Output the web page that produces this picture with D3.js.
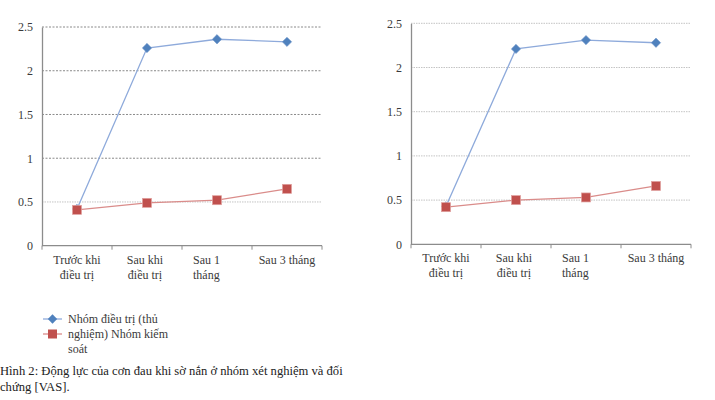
<!DOCTYPE html>
<html><head><meta charset="utf-8">
<script src="https://cdn.jsdelivr.net/npm/d3@7"></script>
<style>
html,body{margin:0;padding:0;background:#fff;}
svg text{font-family:"Liberation Serif","Times New Roman",serif !important;}
</style></head>
<body><svg id="c" width="715" height="400"></svg>
<script>
const categories = ["Trước khi điều trị", "Sau khi điều trị", "Sau 1 tháng", "Sau 3 tháng"];
const categoryLines = [["Trước khi", "điều trị"], ["Sau khi", "điều trị"], ["Sau 1", "tháng"], ["Sau 3 tháng"]];
const yTicks = [0, 0.5, 1, 1.5, 2, 2.5];
const leftTreatment = [0.42, 2.26, 2.36, 2.33];
const leftControl = [0.41, 0.49, 0.52, 0.65];
const rightTreatment = [0.43, 2.21, 2.31, 2.28];
const rightControl = [0.42, 0.50, 0.53, 0.66];
const legendLabels = ["Nhóm điều trị (thủ", "nghiệm) Nhóm kiếm", "soát"];
const captionLines = ["Hình 2: Động lực của cơn đau khi sờ nắn ở nhóm xét nghiệm và đối", "chứng [VAS]."];

const FONT = "Liberation Serif";
const svg = d3.select("#c");
const blue = "#4F81BD", blueLine = "#8EAADB", red = "#C0504D", redLine = "#DA8C8A";
const textCol = "#3a3a3a";

function drawChart(cfg) {
  const g = svg.append("g");
  const x = d3.scaleBand().domain(categories).range([cfg.left, cfg.right]).padding(0);
  const y = d3.scaleLinear().domain([0, 2.5]).range([cfg.bottom, cfg.top]);
  yTicks.filter(v => v > 0).forEach(v => {
    const dark = cfg.darkGrid && v >= 1;
    g.append("line")
      .attr("x1", cfg.left).attr("x2", cfg.right)
      .attr("y1", y(v)).attr("y2", y(v))
      .attr("stroke", dark ? "#8a8a8a" : "#c4c4c4")
      .attr("stroke-width", 1)
      .attr("stroke-dasharray", dark ? "2,1.5" : "1.5,1");
  });
  const ya = g.append("g").attr("transform", `translate(${cfg.left},0)`)
    .call(d3.axisLeft(y).tickValues(yTicks).tickSize(0).tickPadding(9).tickFormat(d => String(d)));
  ya.attr("font-family", FONT);
  ya.select(".domain").attr("stroke", "#8c8c8c").attr("stroke-width", 1.3);
  ya.selectAll("text").attr("font-size", 12).attr("fill", textCol);
  g.append("line").attr("x1", cfg.left).attr("x2", cfg.right)
    .attr("y1", y(0)).attr("y2", y(0)).attr("stroke", "#8c8c8c").attr("stroke-width", 1.3);
  const tickXs = categories.map(c => x(c)).concat([cfg.right]);
  tickXs.forEach(tx => {
    g.append("line").attr("x1", tx).attr("x2", tx).attr("y1", y(0)).attr("y2", y(0) + 4)
      .attr("stroke", "#8c8c8c").attr("stroke-width", 1);
  });
  categories.forEach((c, i) => {
    const cx = x(c) + x.bandwidth() / 2;
    const lines = categoryLines[i];
    const leftAlign = i === 2;
    lines.forEach((ln, j) => {
      g.append("text")
        .attr("x", leftAlign ? cx - 24 : cx + (i === 1 ? -2 : 0))
        .attr("y", y(0) + 18 + j * 15)
        .attr("text-anchor", leftAlign ? "start" : "middle")
        .attr("font-family", FONT)
        .attr("font-size", 12).attr("fill", textCol)
        .text(ln);
    });
  });
  const cxp = (d, i) => x(categories[i]) + x.bandwidth() / 2;
  const line = d3.line().x((d, i) => cxp(d, i)).y(d => y(d));
  g.append("path").datum(cfg.treat).attr("d", line).attr("fill", "none")
    .attr("stroke", blueLine).attr("stroke-width", 1.3);
  g.selectAll(null).data(cfg.treat).enter().append("path")
    .attr("d", d3.symbol().type(d3.symbolDiamond2).size(55))
    .attr("transform", (d, i) => `translate(${cxp(d, i)},${y(d)})`)
    .attr("fill", blue).attr("stroke", "#6f95c8").attr("stroke-width", 0.6);
  g.append("path").datum(cfg.ctrl).attr("d", line).attr("fill", "none")
    .attr("stroke", redLine).attr("stroke-width", 1.3);
  g.selectAll(null).data(cfg.ctrl).enter().append("rect")
    .attr("x", (d, i) => cxp(d, i) - 4.5).attr("y", d => y(d) - 4.5)
    .attr("width", 9).attr("height", 9)
    .attr("fill", red).attr("stroke", "#e0a09e").attr("stroke-width", 0.7);
}

drawChart({left: 42, right: 322, top: 27, bottom: 245.7, treat: leftTreatment, ctrl: leftControl, darkGrid: true});
drawChart({left: 411, right: 691, top: 23.3, bottom: 244.3, treat: rightTreatment, ctrl: rightControl, darkGrid: false});

const lg = svg.append("g");
lg.append("line").attr("x1", 43).attr("x2", 62).attr("y1", 319).attr("y2", 319).attr("stroke", blueLine).attr("stroke-width", 1.3);
lg.append("path").attr("d", d3.symbol().type(d3.symbolDiamond2).size(55)).attr("transform", "translate(52.5,319)").attr("fill", blue);
lg.append("line").attr("x1", 43).attr("x2", 62).attr("y1", 334).attr("y2", 334).attr("stroke", redLine).attr("stroke-width", 1.3);
lg.append("rect").attr("x", 48).attr("y", 329.5).attr("width", 9).attr("height", 9).attr("fill", red);
legendLabels.forEach((t, i) => {
  lg.append("text").attr("x", 68).attr("y", 323 + i * 15).attr("font-family", FONT)
    .attr("font-size", 12).attr("fill", textCol).text(t);
});
captionLines.forEach((t, i) => {
  svg.append("text").attr("x", 0).attr("y", 375 + i * 15.5).attr("font-family", FONT)
    .attr("font-size", 12.6).attr("fill", "#222").text(t);
});
</script></body></html>
